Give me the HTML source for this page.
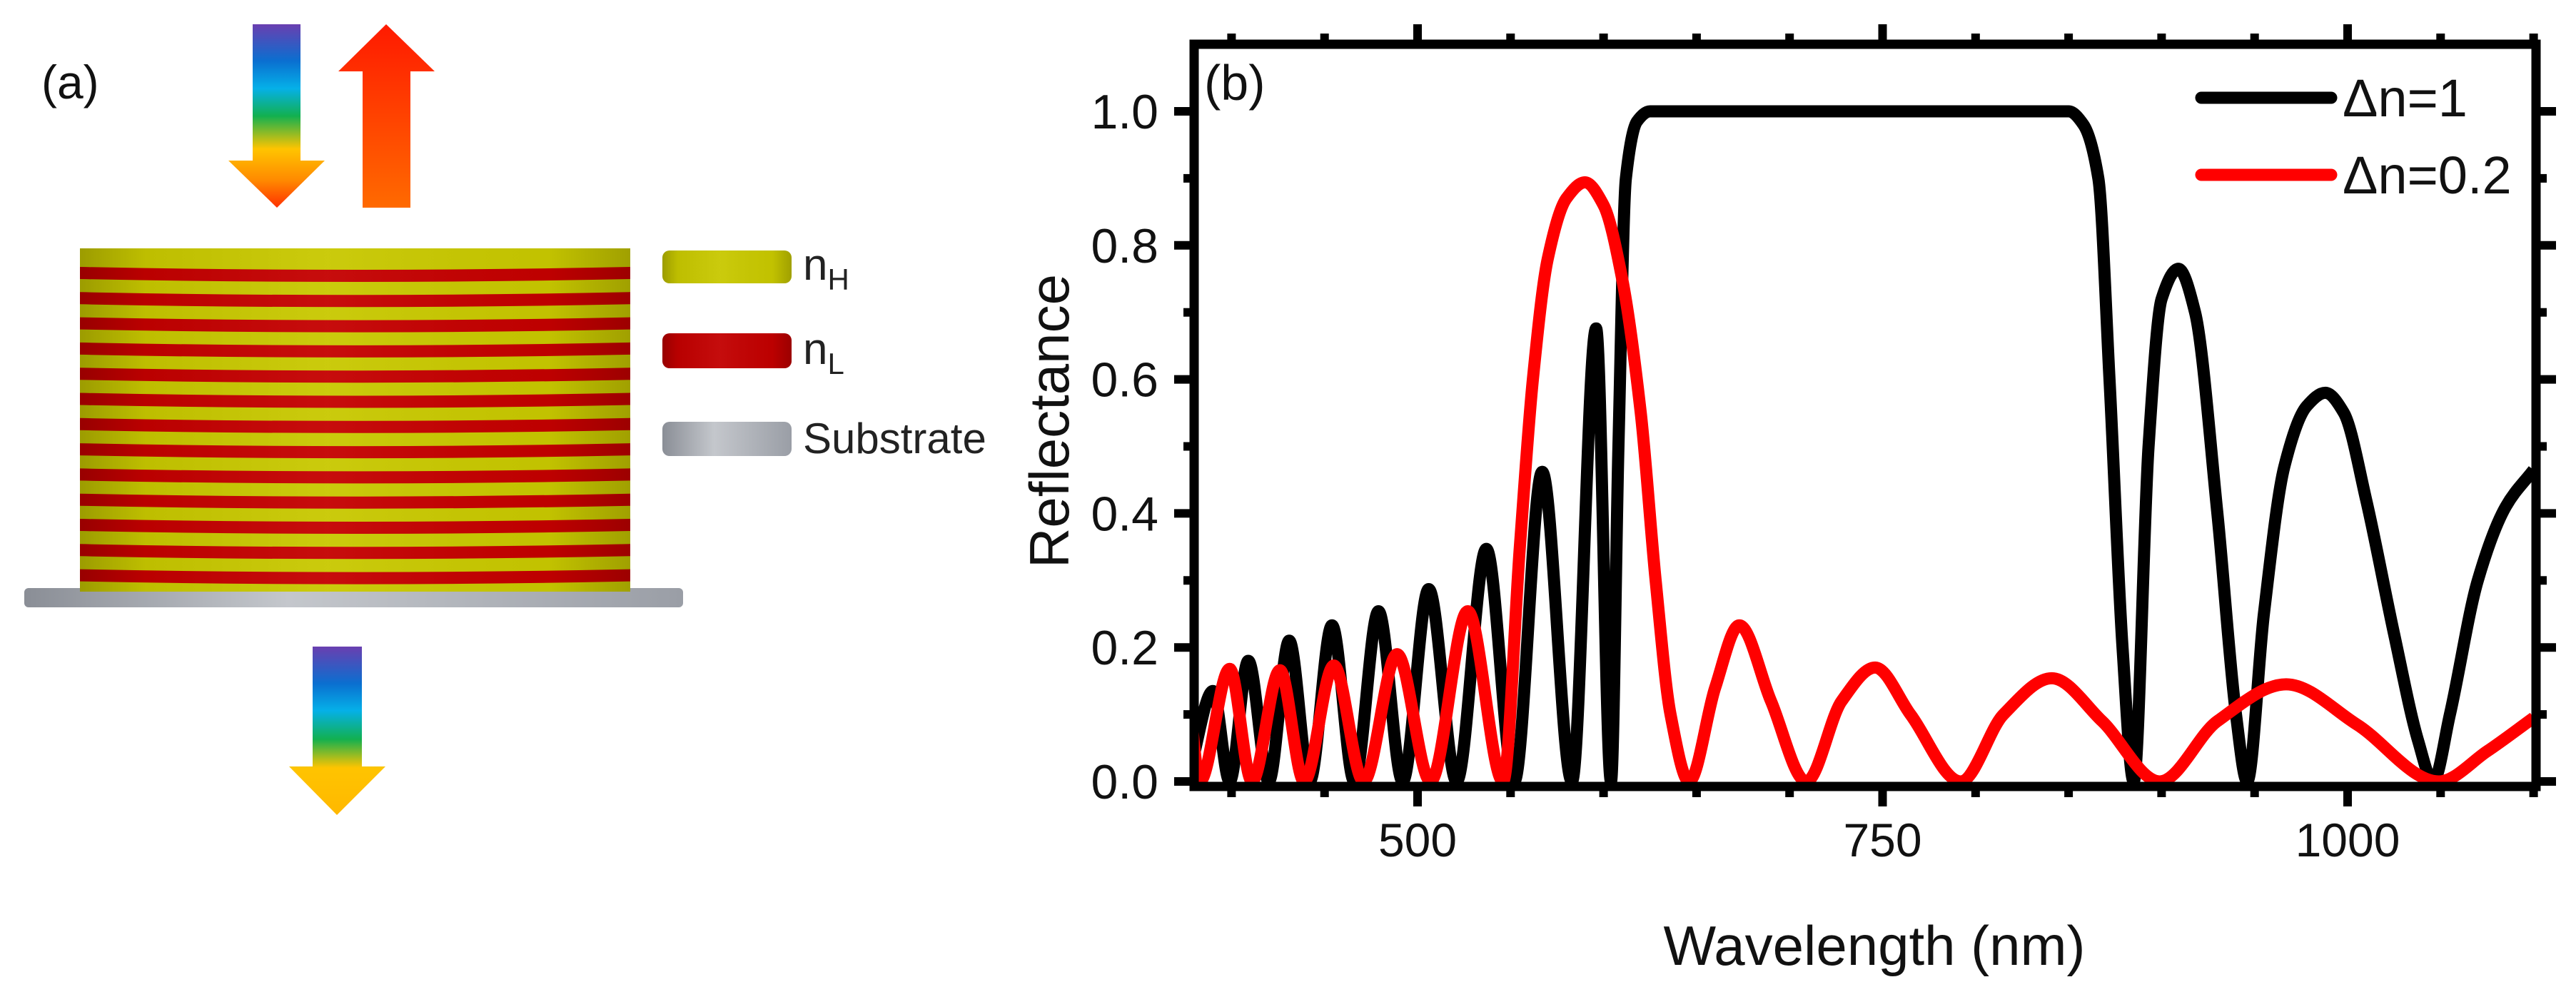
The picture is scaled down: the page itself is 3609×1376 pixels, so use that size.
<!DOCTYPE html>
<html><head><meta charset="utf-8"><style>
html,body{margin:0;padding:0;background:#fff;}
svg{display:block;font-family:"Liberation Sans",Arial,sans-serif;}
</style></head><body>
<svg id="fig" width="3609" height="1376" viewBox="0 0 3609 1376" xmlns="http://www.w3.org/2000/svg">
<defs>
<linearGradient id="rainbow" x1="0" y1="0" x2="0" y2="1">
<stop offset="0" stop-color="#6a3fb0"/><stop offset="0.2" stop-color="#0a6fd0"/><stop offset="0.35" stop-color="#05b0e8"/><stop offset="0.5" stop-color="#12b050"/><stop offset="0.68" stop-color="#ffc400"/><stop offset="0.85" stop-color="#ff8a00"/><stop offset="1" stop-color="#ff3000"/>
</linearGradient>
<linearGradient id="rainbow2" x1="0" y1="0" x2="0" y2="1">
<stop offset="0" stop-color="#6a3fb0"/><stop offset="0.22" stop-color="#0a6fd0"/><stop offset="0.38" stop-color="#05b0e8"/><stop offset="0.55" stop-color="#12b050"/><stop offset="0.72" stop-color="#ffc400"/><stop offset="1" stop-color="#ffb800"/>
</linearGradient>
<linearGradient id="reflect" x1="0" y1="0" x2="0" y2="1">
<stop offset="0" stop-color="#ff1a00"/><stop offset="1" stop-color="#ff6a00"/>
</linearGradient>
<linearGradient id="shade" x1="0" y1="0" x2="1" y2="0">
<stop offset="0" stop-color="#000" stop-opacity="0.22"/><stop offset="0.12" stop-color="#000" stop-opacity="0.05"/><stop offset="0.45" stop-color="#fff" stop-opacity="0.05"/><stop offset="0.85" stop-color="#000" stop-opacity="0.03"/><stop offset="1" stop-color="#000" stop-opacity="0.2"/>
</linearGradient>
<linearGradient id="gray" x1="0" y1="0" x2="1" y2="0">
<stop offset="0" stop-color="#8a8e96"/><stop offset="0.4" stop-color="#c4c7cc"/><stop offset="1" stop-color="#9a9ea6"/>
</linearGradient>
<clipPath id="plotclip"><rect x="1673" y="62" width="1880" height="1040"/></clipPath>
</defs>

<g>
<text x="58" y="138" font-size="66" fill="#111">(a)</text>
<g>
<path d="M354,34 H421 V225 H455 L388,291 L320,225 H354 Z" fill="url(#rainbow)"/>
</g>
<g>
<path d="M508,291 H575 V100 H609 L541,34 L474,100 H508 Z" fill="url(#reflect)"/>
</g>
<g>
<path d="M438,906 H507 V1074 H540 L472,1142 L405,1074 H438 Z" fill="url(#rainbow2)"/>
</g>
<g>
<rect x="34" y="824" width="923" height="27" rx="6" fill="url(#gray)"/>
</g>
<g id="stack"></g>
<g>
<rect x="928" y="351" width="181" height="46" rx="10" fill="#c8c800"/>
<rect x="928" y="351" width="181" height="46" rx="10" fill="url(#shade)"/>
<text x="1125" y="392" font-size="62" fill="#222">n<tspan font-size="42" dy="14">H</tspan></text>
<rect x="928" y="467" width="181" height="49" rx="10" fill="#c20000"/>
<rect x="928" y="467" width="181" height="49" rx="10" fill="url(#shade)"/>
<text x="1125" y="510" font-size="62" fill="#222">n<tspan font-size="42" dy="14">L</tspan></text>
<rect x="928" y="591" width="181" height="48" rx="10" fill="url(#gray)"/>
<text x="1125" y="635" font-size="60" fill="#222">Substrate</text>
</g>
</g>

<g>
<g id="axes"></g>
<g id="curves" clip-path="url(#plotclip)"></g>
<rect x="1673" y="62" width="1880" height="1040" fill="none" stroke="#000" stroke-width="13"/>
<text x="1687" y="140" font-size="70" fill="#111">(b)</text>
<text transform="translate(1497,590) rotate(-90)" text-anchor="middle" font-size="78" fill="#111">Reflectance</text>
<text x="2626" y="1352" text-anchor="middle" font-size="78" fill="#111">Wavelength (nm)</text>
<g>
<line x1="3084" y1="137" x2="3266" y2="137" stroke="#000" stroke-width="17" stroke-linecap="round"/>
<text x="3282" y="163" font-size="74" fill="#111">Δn=1</text>
<line x1="3084" y1="245" x2="3266" y2="245" stroke="#ff0000" stroke-width="17" stroke-linecap="round"/>
<text x="3282" y="271" font-size="74" fill="#111">Δn=0.2</text>
</g>
</g>
</svg>
<script>
// ---- chart data ----
const xTicksMajor = [500, 750, 1000];
const xTickLabels = ["500", "750", "1000"];
const yTicksMajor = [0, 0.2, 0.4, 0.6, 0.8, 1.0];
const yTickLabels = ["0.0", "0.2", "0.4", "0.6", "0.8", "1.0"];
const dn1Wavelength = [378,390,399,409,420,431,442,454,466,479,492,506,521,537,552,567,583,596,604,608,612,618,625,850,858,866,872,879,885,893,900,909,918,930,940,946,955,966,978,988,998,1010,1025,1038,1046,1055,1070,1085,1100];
const dn1Reflectance = [0.02,0.135,0,0.18,0,0.21,0,0.233,0,0.254,0,0.287,0,0.347,0,0.462,0,0.676,0,0.5,0.9,0.985,1.0,1.0,0.98,0.9,0.6,0.2,0,0.5,0.72,0.765,0.7,0.4,0.1,0,0.25,0.47,0.56,0.58,0.55,0.42,0.22,0.06,0,0.1,0.3,0.41,0.465];
const dn02Wavelength = [378,383,399,411,426,439,455,471,489,507,527,546,555,562,570,580,590,600,610,620,628,636,646,660,673,690,709,728,746,765,792,815,841,868,899,930,967,1005,1049,1075,1100];
const dn02Reflectance = [0.1,0,0.168,0,0.166,0,0.173,0,0.19,0,0.254,0,0.35,0.6,0.78,0.87,0.894,0.86,0.75,0.55,0.3,0.1,0,0.14,0.233,0.12,0,0.12,0.17,0.1,0,0.1,0.154,0.09,0,0.09,0.145,0.085,0,0.045,0.095];

const NS = "http://www.w3.org/2000/svg";
function xs(w){ return 1986 + (w - 500) * (3289 - 1986) / 500; }
function ys(v){ return 1095 - v * 939; }

const axes = document.getElementById('axes');
function mk(tag, attrs, parent){ const e = document.createElementNS(NS, tag); for (const k in attrs) e.setAttribute(k, attrs[k]); parent.appendChild(e); return e; }

for (let w = 400; w <= 1100; w += 50) {
  const major = xTicksMajor.includes(w);
  const len = major ? 22 : 9;
  const b = mk('line', {x1: xs(w), x2: xs(w), y1: 1102, y2: 1108 + len, stroke: '#000', 'stroke-width': 12}, axes);
  
  
  const t = mk('line', {x1: xs(w), x2: xs(w), y1: 62, y2: 56 - len, stroke: '#000', 'stroke-width': 12}, axes);
  
  
}
xTicksMajor.forEach((w, i) => {
  const tx = mk('text', {x: xs(w), y: 1200, 'text-anchor': 'middle', 'font-size': 66, fill: '#111'}, axes);
  tx.textContent = xTickLabels[i];
  
  
});
for (let k = 0; k <= 10; k++) {
  const v = k / 10;
  const major = k % 2 === 0;
  const len = major ? 22 : 9;
  const l = mk('line', {x1: 1667 - len, x2: 1673, y1: ys(v), y2: ys(v), stroke: '#000', 'stroke-width': 12}, axes);
  
  
  const r = mk('line', {x1: 3553, x2: 3559 + len, y1: ys(v), y2: ys(v), stroke: '#000', 'stroke-width': 12}, axes);
  
  
}
yTicksMajor.forEach((v, i) => {
  const ty = mk('text', {x: 1623, y: ys(v) + 24, 'text-anchor': 'end', 'font-size': 68, fill: '#111'}, axes);
  ty.textContent = yTickLabels[i];
  
  
});

function monoPath(X, Y){
  const n = X.length, d = [], m = [];
  for (let i = 0; i < n - 1; i++) d.push((Y[i+1]-Y[i])/(X[i+1]-X[i]));
  m[0] = d[0]; m[n-1] = d[n-2];
  for (let i = 1; i < n - 1; i++) m[i] = (d[i-1]*d[i] <= 0) ? 0 : 2/(1/d[i-1] + 1/d[i]);
  let p = 'M' + X[0] + ',' + Y[0];
  for (let i = 0; i < n - 1; i++) {
    const h = X[i+1] - X[i];
    p += ' C' + (X[i]+h/3) + ',' + (Y[i]+m[i]*h/3) + ' ' + (X[i+1]-h/3) + ',' + (Y[i+1]-m[i+1]*h/3) + ' ' + X[i+1] + ',' + Y[i+1];
  }
  return p;
}
const curves = document.getElementById('curves');
const redPath = mk('path', {d: monoPath(dn02Wavelength.map(xs), dn02Reflectance.map(ys)), fill: 'none', stroke: '#ff0000', 'stroke-width': 17, 'stroke-linejoin': 'round'}, curves);


const blackPath = mk('path', {d: monoPath(dn1Wavelength.map(xs), dn1Reflectance.map(ys)), fill: 'none', stroke: '#000', 'stroke-width': 17, 'stroke-linejoin': 'round'}, curves);


curves.appendChild(redPath);

const stack = document.getElementById('stack');
const body = mk('rect', {x: 112, y: 348, width: 771, height: 481, fill: '#c8c800'}, stack);


for (let k = 0; k < 13; k++) {
  const y = 374 + k * 35.3;
  const s = mk('path', {d: 'M112,' + y + ' Q497,' + (y + 8) + ' 883,' + y + ' V' + (y + 17) + ' Q497,' + (y + 25) + ' 112,' + (y + 17) + ' Z', fill: '#c40000'}, stack);
  
  
}
const sh = mk('rect', {x: 112, y: 348, width: 771, height: 481, fill: 'url(#shade)'}, stack);


</script>
</body></html>
